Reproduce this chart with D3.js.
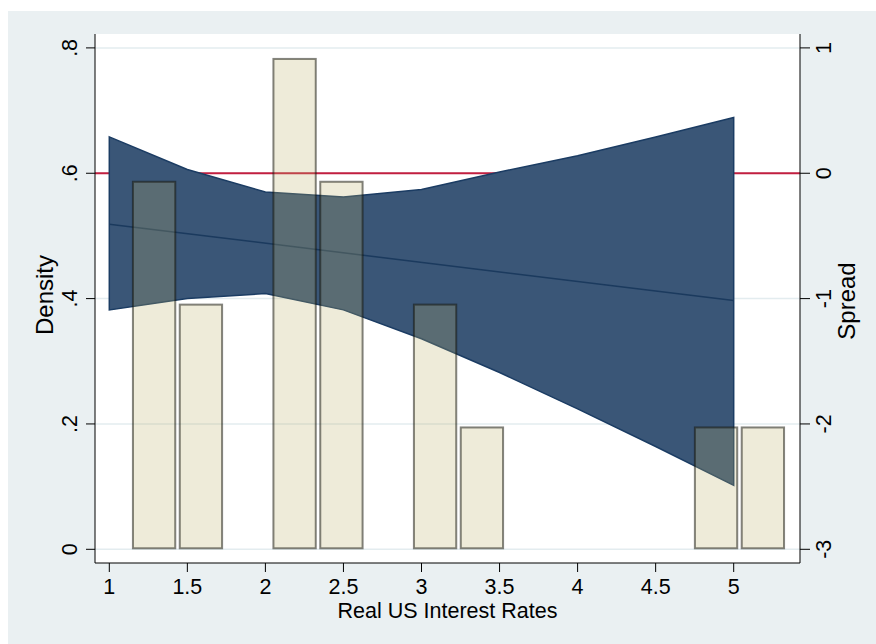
<!DOCTYPE html>
<html>
<head>
<meta charset="utf-8">
<script src="https://cdn.jsdelivr.net/npm/d3@7"></script>
<style>
  html, body { margin: 0; padding: 0; background: #ffffff; }
  svg { display: block; }
  text { font-family: "Liberation Sans", Arial, Helvetica, sans-serif; fill: #000; }
</style>
</head>
<body>
<svg id="chart" width="876" height="644"></svg>
<script>
// ---------------- data ----------------
// histogram (left axis: Density)
const binStart = 1.145;
const binWidth = 0.3;
const binLefts   = [1.145, 1.445, 2.045, 2.345, 2.945, 3.245, 4.745, 5.045];
const binDensity = [0.588, 0.392, 0.784, 0.588, 0.392, 0.196, 0.196, 0.196];

// fitted line with confidence band (right axis: Spread)
const ciX     = [1, 1.5, 2, 2.5, 3, 3.5, 4, 4.5, 5];
const ciUpper = [0.29, 0.03, -0.15, -0.19, -0.13, 0.01, 0.14, 0.29, 0.445];
const ciLower = [-1.09, -1.00, -0.96, -1.09, -1.32, -1.59, -1.88, -2.18, -2.49];
const fitX    = [1, 5];
const fitY    = [-0.406, -1.016];
const refLineSpread = 0;

// ticks
const xTicks = [1, 1.5, 2, 2.5, 3, 3.5, 4, 4.5, 5];
const xTickLabels = ["1", "1.5", "2", "2.5", "3", "3.5", "4", "4.5", "5"];
const densTicks = [0, 0.2, 0.4, 0.6, 0.8];
const densTickLabels = ["0", ".2", ".4", ".6", ".8"];
const spreadTicks = [-3, -2, -1, 0, 1];
const spreadTickLabels = ["-3", "-2", "-1", "0", "1"];

const xTitle = "Real US Interest Rates";
const yLeftTitle = "Density";
const yRightTitle = "Spread";

// ---------------- layout ----------------
const svg = d3.select("#chart");
const plot = { left: 95, right: 800, top: 34, bottom: 563 };

const x = d3.scaleLinear().domain([1, 5]).range([109.3, 733.7]);
const yD = d3.scaleLinear().domain([0, 0.8]).range([549.3, 47.9]);
const yS = d3.scaleLinear().domain([-3, 1]).range([549.3, 47.9]);

// outer background
svg.append("rect").attr("x", 8).attr("y", 11).attr("width", 868).attr("height", 633)
  .attr("fill", "#EAF0F2");
// plot region
svg.append("rect").attr("x", plot.left).attr("y", plot.top)
  .attr("width", plot.right - plot.left).attr("height", plot.bottom - plot.top)
  .attr("fill", "#ffffff");

// gridlines
svg.append("g").selectAll("line").data(densTicks).join("line")
  .attr("x1", plot.left).attr("x2", plot.right)
  .attr("y1", d => yD(d)).attr("y2", d => yD(d))
  .attr("stroke", "#E3ECEF").attr("stroke-width", 1.5);

// reference line at spread = 0
svg.append("line")
  .attr("x1", plot.left).attr("x2", plot.right)
  .attr("y1", yS(refLineSpread)).attr("y2", yS(refLineSpread))
  .attr("stroke", "#C21F40").attr("stroke-width", 1.8);

// confidence band
const bandData = ciX.map((v, i) => ({ x: v, lo: ciLower[i], hi: ciUpper[i] }));
const area = d3.area().x(d => x(d.x)).y0(d => yS(d.lo)).y1(d => yS(d.hi));
svg.append("path").datum(bandData).attr("d", area)
  .attr("fill", "#3A5677").attr("stroke", "#1B3C63").attr("stroke-width", 1.5)
  .attr("stroke-linejoin", "miter");

// fit line
const line = d3.line().x(d => x(d[0])).y(d => yS(d[1]));
svg.append("path").datum(fitX.map((v, i) => [v, fitY[i]])).attr("d", line)
  .attr("fill", "none").attr("stroke", "#1B3A5E").attr("stroke-width", 1.5);

// histogram bars
const bw = x(binStart + binWidth) - x(binStart);
svg.append("g").selectAll("rect").data(binLefts.map((b, i) => ({ b, d: binDensity[i] })))
  .join("rect")
  .attr("x", d => x(d.b) + 1)
  .attr("y", d => yD(d.d) + 1)
  .attr("width", bw - 4.5)
  .attr("height", d => yD(0) - yD(d.d) - 2)
  .attr("fill", "rgb(187,175,103)").attr("fill-opacity", 0.25)
  .attr("stroke", "rgb(20,20,10)").attr("stroke-opacity", 0.52).attr("stroke-width", 2);

// axes lines
const axisColor = "#000";
svg.append("line").attr("x1", plot.left).attr("x2", plot.left)
  .attr("y1", plot.top).attr("y2", plot.bottom).attr("stroke", axisColor).attr("stroke-width", 1);
svg.append("line").attr("x1", plot.right).attr("x2", plot.right)
  .attr("y1", plot.top).attr("y2", plot.bottom).attr("stroke", axisColor).attr("stroke-width", 1);
svg.append("line").attr("x1", plot.left).attr("x2", plot.right)
  .attr("y1", plot.bottom).attr("y2", plot.bottom).attr("stroke", axisColor).attr("stroke-width", 1);

// x ticks
const gx = svg.append("g");
gx.selectAll("line").data(xTicks).join("line")
  .attr("x1", d => x(d)).attr("x2", d => x(d))
  .attr("y1", plot.bottom).attr("y2", plot.bottom + 9)
  .attr("stroke", axisColor).attr("stroke-width", 1);
gx.selectAll("text").data(xTicks).join("text")
  .attr("x", d => x(d)).attr("y", 594)
  .attr("text-anchor", "middle").attr("font-size", 21.5)
  .text((d, i) => xTickLabels[i]);

// left ticks
const gl = svg.append("g");
gl.selectAll("line").data(densTicks).join("line")
  .attr("x1", plot.left - 9).attr("x2", plot.left)
  .attr("y1", d => yD(d)).attr("y2", d => yD(d))
  .attr("stroke", axisColor).attr("stroke-width", 1);
gl.selectAll("text").data(densTicks).join("text")
  .attr("transform", d => `translate(77.3,${yD(d)}) rotate(-90)`)
  .attr("text-anchor", "middle").attr("font-size", 21.5)
  .text((d, i) => densTickLabels[i]);

// right ticks
const gr = svg.append("g");
gr.selectAll("line").data(spreadTicks).join("line")
  .attr("x1", plot.right).attr("x2", plot.right + 10)
  .attr("y1", d => yS(d)).attr("y2", d => yS(d))
  .attr("stroke", axisColor).attr("stroke-width", 1);
gr.selectAll("text").data(spreadTicks).join("text")
  .attr("transform", d => `translate(830.7,${yS(d)}) rotate(-90)`)
  .attr("text-anchor", "middle").attr("font-size", 21.5)
  .text((d, i) => spreadTickLabels[i]);

// titles
svg.append("text").attr("x", (plot.left + plot.right) / 2).attr("y", 618.3)
  .attr("text-anchor", "middle").attr("font-size", 21.5).text(xTitle);
svg.append("text").attr("transform", `translate(53.3,295) rotate(-90)`)
  .attr("text-anchor", "middle").attr("font-size", 24).text(yLeftTitle);
svg.append("text").attr("transform", `translate(855,301) rotate(-90)`)
  .attr("text-anchor", "middle").attr("font-size", 24).text(yRightTitle);
</script>
</body>
</html>
